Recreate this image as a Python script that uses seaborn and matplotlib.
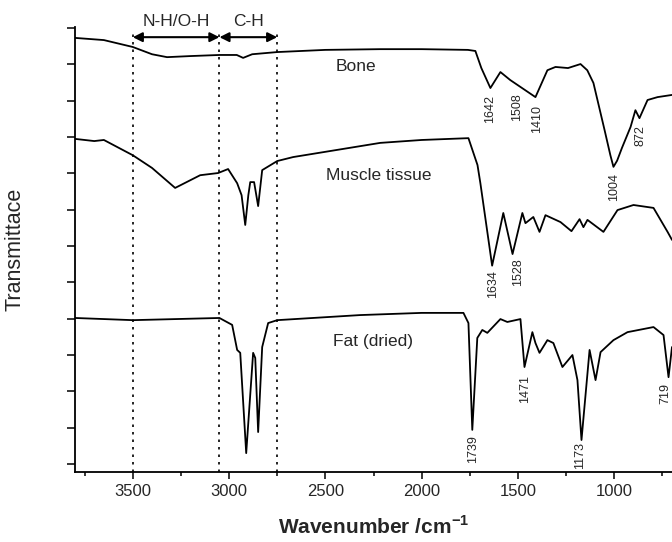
import numpy as np
import pandas as pd
import matplotlib
matplotlib.use("Agg")
import matplotlib.pyplot as plt
import seaborn as sns

# ==========================================
# DATA
# ==========================================

bone_wn = [3800, 3650, 3500, 3400, 3322, 3200, 3050, 2960, 2927, 2880, 2750, 2500,
           2215, 2000, 1760, 1721, 1690, 1643, 1591, 1540, 1487, 1409, 1347, 1305,
           1240, 1175, 1140, 1108, 1050, 1020, 1004, 985, 960, 915, 890, 869, 827, 775, 700]
bone_t = [11.73, 11.67, 11.48, 11.28, 11.20, 11.23, 11.26, 11.26, 11.18, 11.28, 11.34, 11.40,
          11.42, 11.42, 11.40, 11.37, 10.90, 10.35, 10.79, 10.57, 10.38, 10.10, 10.84, 10.93,
          10.90, 11.01, 10.84, 10.49, 9.19, 8.50, 8.18, 8.35, 8.70, 9.28, 9.74, 9.52, 10.02, 10.10, 10.16]

muscle_wn = [3800, 3700, 3650, 3500, 3400, 3280, 3150, 3057, 3005, 2958, 2935, 2916,
             2900, 2890, 2870, 2849, 2828, 2750, 2667, 2215, 2000, 1757, 1710, 1695,
             1634, 1576, 1528, 1477, 1461, 1420, 1388, 1357, 1279, 1222, 1180, 1160,
             1139, 1056, 983, 900, 796, 723, 700]
muscle_t = [8.95, 8.89, 8.92, 8.50, 8.15, 7.60, 7.95, 8.01, 8.12, 7.73, 7.40, 6.58,
            7.40, 7.76, 7.76, 7.10, 8.09, 8.34, 8.45, 8.84, 8.92, 8.97, 8.23, 7.73,
            5.46, 6.91, 5.78, 6.91, 6.63, 6.80, 6.39, 6.85, 6.66, 6.41, 6.74, 6.52,
            6.72, 6.39, 6.99, 7.13, 7.05, 6.39, 6.17]

fat_wn = [3800, 3500, 3050, 2984, 2958, 2942, 2911, 2875, 2864, 2849, 2828, 2797,
          2750, 2319, 2000, 1783, 1757, 1737, 1711, 1685, 1659, 1591, 1555, 1487,
          1466, 1425, 1409, 1388, 1347, 1316, 1269, 1217, 1191, 1170, 1128, 1097,
          1071, 1004, 931, 796, 744, 718, 700]
fat_t = [4.02, 3.96, 4.02, 3.83, 3.14, 3.06, 0.30, 3.06, 2.92, 0.88, 3.22, 3.88,
         3.96, 4.10, 4.16, 4.16, 3.88, 0.94, 3.47, 3.69, 3.61, 3.99, 3.91, 3.99,
         2.67, 3.63, 3.33, 3.06, 3.41, 3.33, 2.67, 3.00, 2.31, 0.66, 3.14, 2.31,
         3.08, 3.41, 3.63, 3.77, 3.55, 2.39, 3.22]

samples = ["Bone", "Muscle tissue", "Fat (dried)"]

# peak labels (wavenumber text, x of label, y of label top)
peak_labels = [1642, 1508, 1410, 1004, 872, 1634, 1528, 1739, 1471, 1173, 719]
peak_x = [1643, 1503, 1399, 999, 863, 1627, 1497, 1731, 1461, 1175, 735]
peak_y = [10.16, 10.21, 9.88, 8.01, 9.33, 5.34, 5.67, 0.80, 2.45, 0.61, 2.23]

regions = [3500, 3050, 2750]

df = pd.concat([
    pd.DataFrame({"wn": bone_wn, "t": bone_t, "sample": samples[0]}),
    pd.DataFrame({"wn": muscle_wn, "t": muscle_t, "sample": samples[1]}),
    pd.DataFrame({"wn": fat_wn, "t": fat_t, "sample": samples[2]}),
])

# ==========================================
# PLOT
# ==========================================

sns.set_style("ticks")
plt.rcParams["font.family"] = ["Liberation Sans", "DejaVu Sans"]
plt.rcParams["axes.unicode_minus"] = False

fig = plt.figure(figsize=(6.72, 5.42), dpi=100)
ax = fig.add_axes([75 / 672, 70 / 542, 597 / 672, 445 / 542])

sns.lineplot(data=df, x="wn", y="t", hue="sample", palette=["black"] * 3,
             estimator=None, sort=False, legend=False, linewidth=1.3, ax=ax)

ax.set_xlim(3800, 700)
ax.set_ylim(-0.22, 12.03)
ax.set_xticks([3500, 3000, 2500, 2000, 1500, 1000])
ax.set_xticks([3750, 3250, 2750, 2250, 1750, 1250, 750], minor=True)
ax.set_yticks(range(13))
ax.set_yticklabels([])
ax.tick_params(axis="x", which="major", length=5, width=1.3, labelsize=12, direction="out")
ax.tick_params(axis="x", which="minor", length=3, width=1.3, direction="out")
ax.tick_params(axis="y", length=6, width=1.3, direction="out")
for s in ["top", "right"]:
    ax.spines[s].set_visible(False)
for s in ["left", "bottom"]:
    ax.spines[s].set_linewidth(1.3)
    ax.spines[s].set_color("black")

ax.set_xlabel("Wavenumber /cm$^{\\mathregular{-1}}$", fontsize=15, fontweight="bold", labelpad=12)
ax.set_ylabel("Transmittace", fontsize=15.5, labelpad=26)

# region markers
ax.vlines(regions, -0.22, 11.86, colors="black", linestyles=(0, (1.5, 3)), linewidth=1.2)
arrow = dict(arrowstyle="<|-|>", mutation_scale=14, lw=1.5, color="black", shrinkA=0, shrinkB=0)
ax.annotate("", xy=(regions[0], 11.75), xytext=(regions[1], 11.75), arrowprops=arrow)
ax.annotate("", xy=(regions[1], 11.75), xytext=(regions[2], 11.75), arrowprops=arrow)
ax.text((regions[0] + regions[1]) / 2, 12.17, "N-H/O-H", fontsize=12.5, ha="center", va="center", clip_on=False)
ax.text((regions[1] + regions[2]) / 2, 12.17, "C-H", fontsize=12.5, ha="center", va="center", clip_on=False)

# sample names
ax.text(2446, 10.93, samples[0], fontsize=12.5, va="center")
ax.text(2498, 7.95, samples[1], fontsize=12.5, va="center")
ax.text(2461, 3.36, samples[2], fontsize=12.5, va="center")

for lab, x, y in zip(peak_labels, peak_x, peak_y):
    ax.text(x, y, str(lab), rotation=90, fontsize=9, ha="center", va="top")

plt.savefig("out.png", dpi=100)
